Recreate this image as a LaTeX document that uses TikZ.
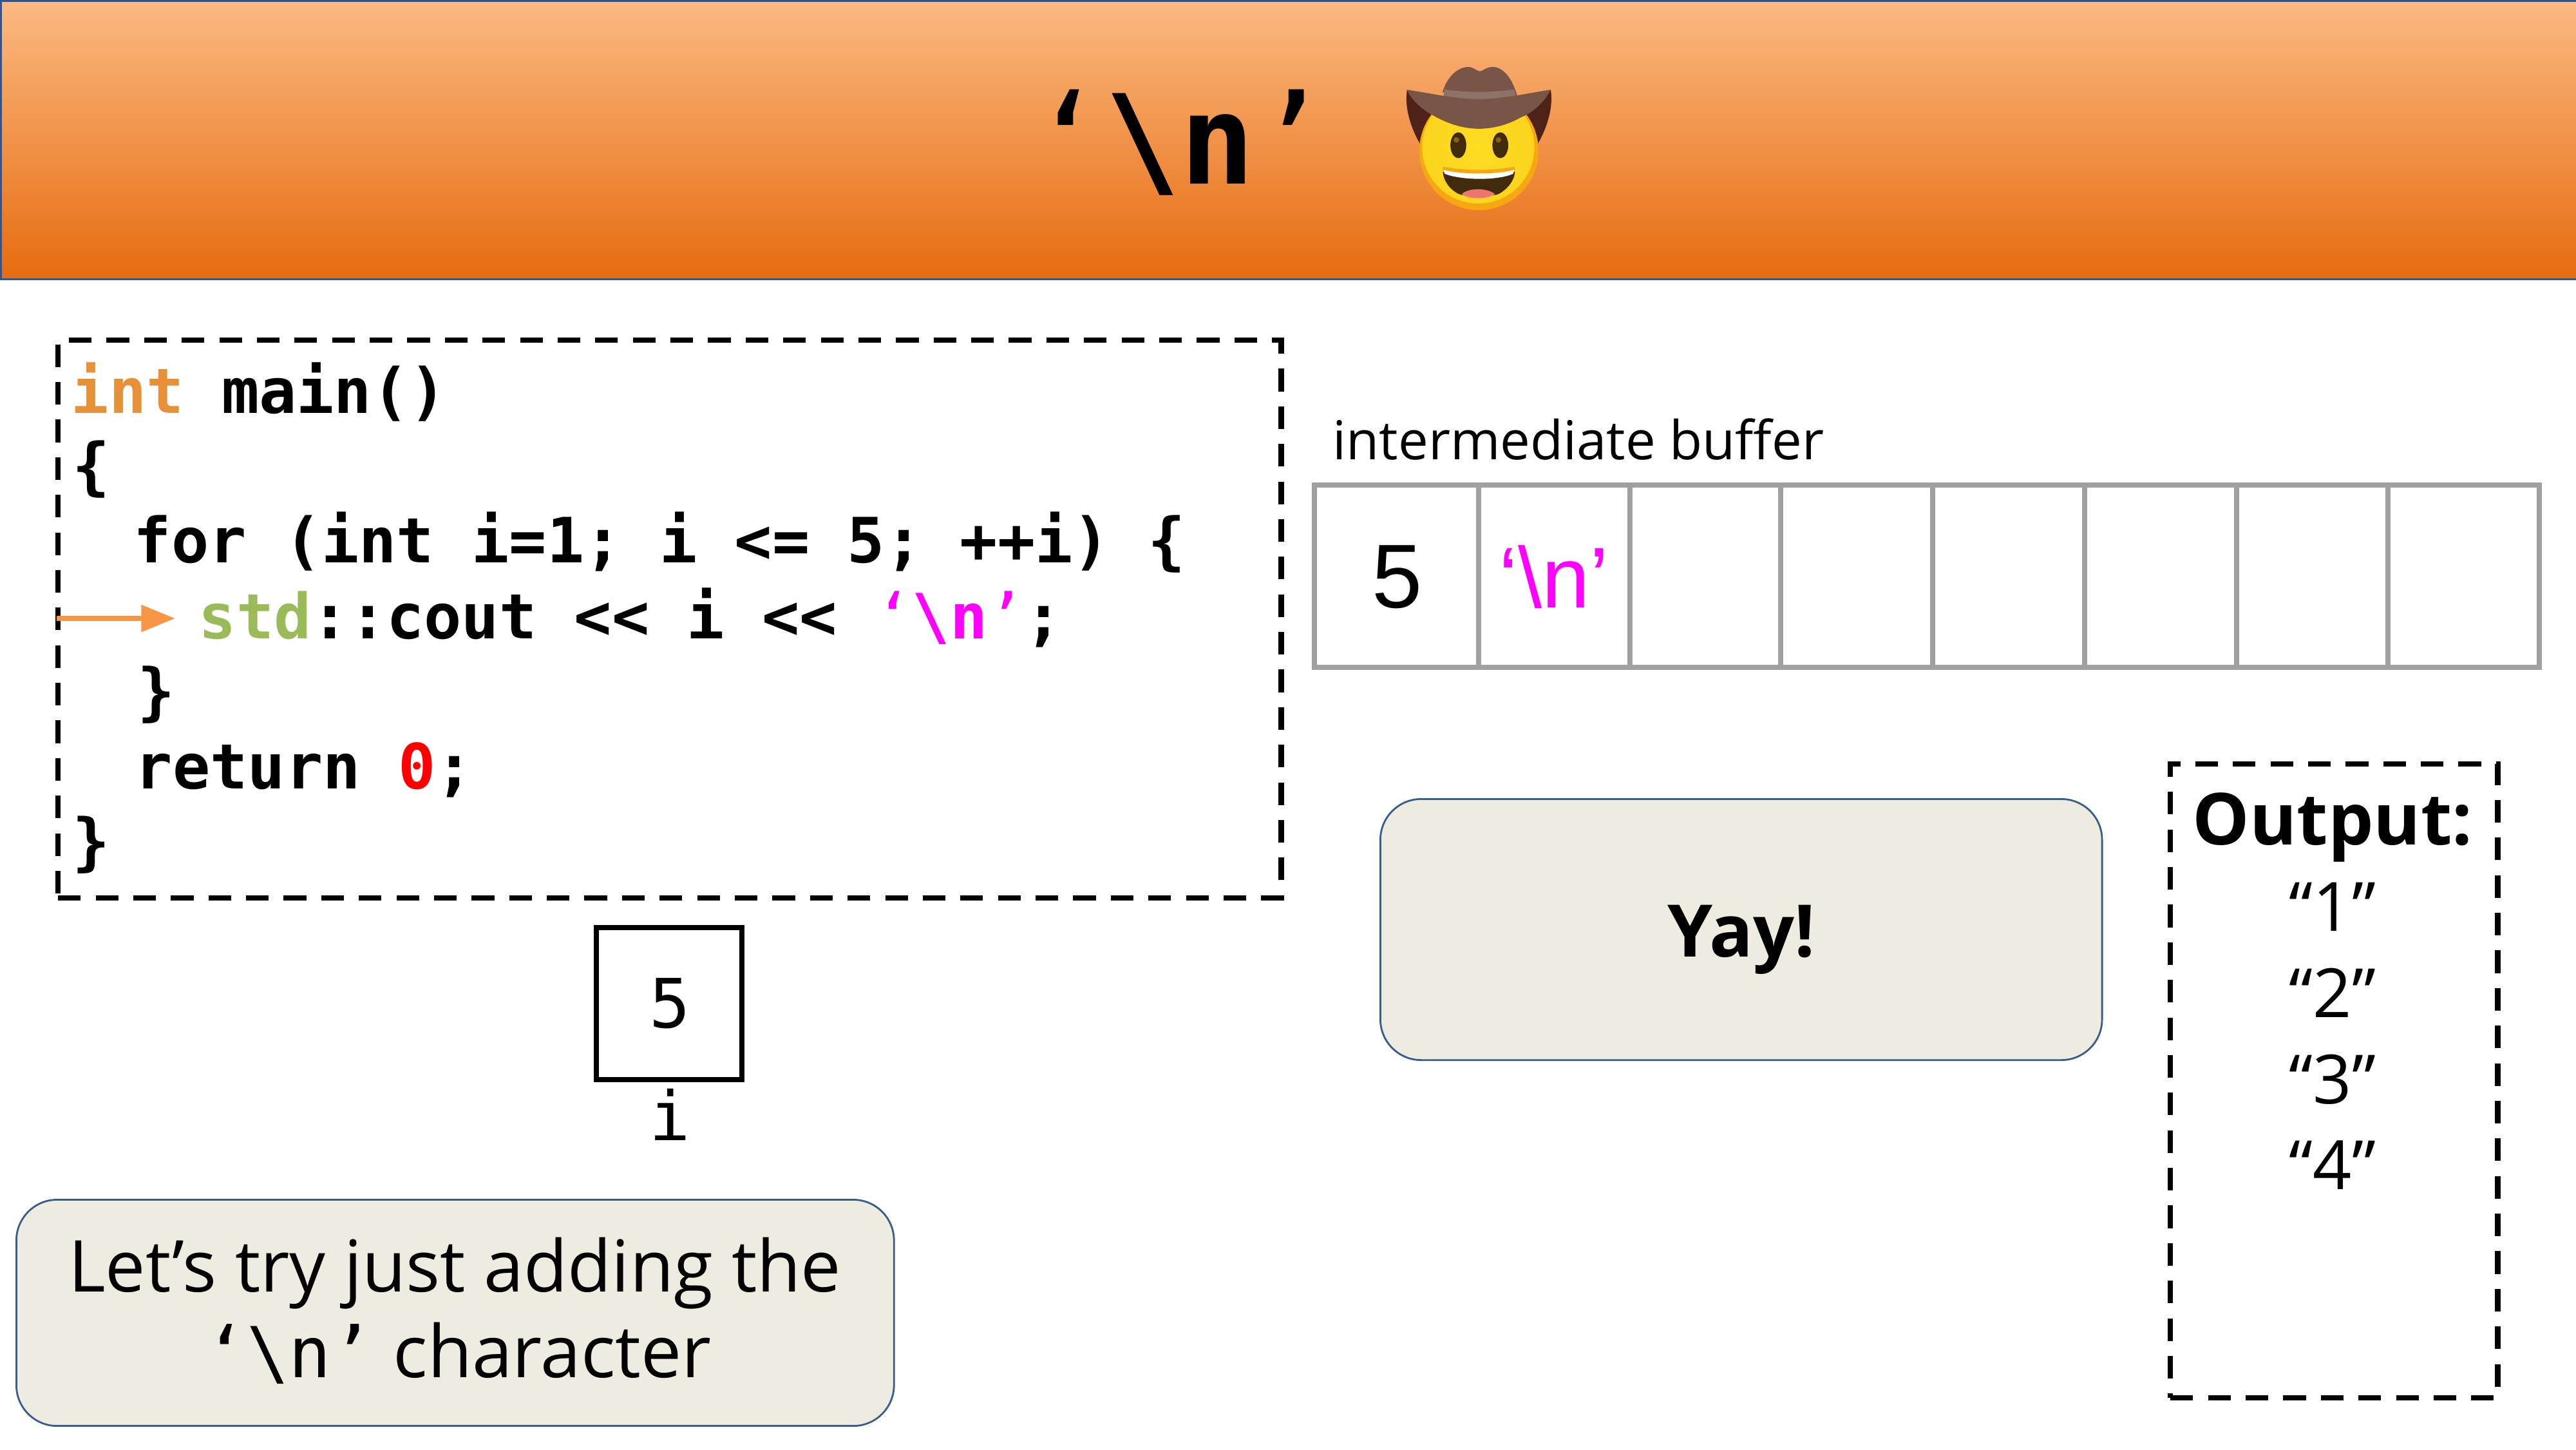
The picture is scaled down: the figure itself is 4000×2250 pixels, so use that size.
\documentclass[tikz,border=0pt]{standalone}
\usepackage{fontspec}
\setmainfont{Open Sans}
\newfontfamily\codefont{DejaVu Sans Mono}
\newfontfamily\arialfont{Liberation Sans}
\usetikzlibrary{arrows.meta}
\definecolor{hdtop}{HTML}{FBB982}
\definecolor{hdmid}{HTML}{F29A55}
\definecolor{hdbot}{HTML}{E66C10}
\definecolor{hdline}{HTML}{2F5597}
\definecolor{tan}{HTML}{EEECE1}
\definecolor{tanline}{HTML}{385D8A}
\definecolor{gridc}{HTML}{A0A0A0}
\definecolor{kwc}{HTML}{E69138}
\definecolor{stdc}{HTML}{9BBB59}
\definecolor{arrowc}{HTML}{F79646}
\definecolor{pinkc}{HTML}{FF00FF}
\definecolor{redc}{HTML}{FF0000}
\definecolor{hatc}{HTML}{795548}
\definecolor{hatband}{HTML}{8D7268}
\definecolor{hatdark}{HTML}{4E2217}
\definecolor{facec}{HTML}{FDDC22}
\definecolor{faceedge}{HTML}{F5A80F}
\definecolor{eyec}{HTML}{422B0D}
\definecolor{eyeh}{HTML}{896024}
\definecolor{tonguec}{HTML}{ED7770}
\newcommand{\thinlq}{\mdseries ‘\bfseries}
\newcommand{\thinrq}{\mdseries ’\bfseries}
\tikzset{
  x=.01cm,y=-.01cm,
  code/.style={anchor=base west,inner sep=0pt,font=\codefont\bfseries\fontsize{27.55}{33}\selectfont},
  dashbox/.style={draw=black,line width=2.4pt,dash pattern=on 10pt off 6.6pt,inner sep=0pt},
  tanbox/.style={draw=tanline,fill=tan,line width=.8pt,rounded corners=18pt,inner sep=0pt},
  lbl/.style={anchor=base,inner sep=0pt},
  cell/.style={draw=gridc,line width=2.2pt,inner sep=0pt,anchor=north west,minimum height=2.83cm},
  plain/.style={font=\fontsize{30}{36}\selectfont,lbl}
}
\begin{document}
\begin{tikzpicture}
\useasboundingbox (0,0) rectangle (4000,2250);
% header
\node[draw=hdline,line width=.8pt,top color=hdtop,middle color=hdmid,bottom color=hdbot,anchor=north west,minimum width=40cm,minimum height=4.32cm,inner sep=0pt] (header) at (0,0) {};
\node[lbl,font=\codefont\bfseries\fontsize{54.8}{60}\selectfont] (title) at (1832,285) {\thinlq\textbackslash n\thinrq};
% emoji
\begin{scope}[shift={(2130,80)},x=.003333cm,y=-.003333cm]
  \fill[hatdark] (165,178) .. controls (150,270) and (190,370) .. (225,430) -- (300,300) -- cycle;
  \fill[hatdark] (835,178) .. controls (850,270) and (810,370) .. (775,430) -- (700,300) -- cycle;
  \fill[faceedge] (500,462) circle (278);
  \shade[inner color=facec,outer color=facec!85!faceedge] (497,447) circle (262);
  \fill[hatc] (330,190) .. controls (350,120) and (400,72) .. (450,72) .. controls (475,72) and (490,92) .. (505,92) .. controls (520,92) and (530,72) .. (565,72) .. controls (610,72) and (655,120) .. (678,205) -- cycle;
  \fill[hatband] (330,240) -- (340,177) .. controls (450,192) and (550,192) .. (665,177) -- (678,240) -- cycle;
  \fill[hatc] (165,178) .. controls (300,200) and (400,222) .. (500,222) .. controls (600,222) and (700,200) .. (835,178) .. controls (800,250) and (730,295) .. (700,305) .. controls (630,345) and (560,360) .. (500,360) .. controls (440,360) and (370,345) .. (290,300) .. controls (260,285) and (190,240) .. (165,178) -- cycle;
  \fill[eyec] (404,437) ellipse (37 and 60);
  \fill[eyec] (600,437) ellipse (37 and 60);
  \fill[eyeh] (395,412) circle (13);
  \fill[eyeh] (591,412) circle (13);
  \fill[eyec] (332,560) .. controls (420,585) and (580,585) .. (668,560) .. controls (665,620) and (600,670) .. (570,670) -- (425,670) .. controls (390,665) and (335,620) .. (332,560) -- cycle;
  \fill[tonguec] (420,665) .. controls (450,635) and (540,635) .. (575,665) .. controls (540,690) and (450,690) .. (420,665) -- cycle;
  \draw[faceedge,line width=1.6pt] (332,545) .. controls (420,565) and (580,565) .. (668,545);
  \fill[white] (335,552) .. controls (420,575) and (580,575) .. (665,552) -- (660,570) .. controls (590,602) and (420,602) .. (340,570) -- cycle;
\end{scope}
% code box
\node[dashbox,anchor=north west,minimum width=18.98cm,minimum height=8.65cm] (codebox) at (86,524) {};
\node[code] (l1) at (110,641) {\textcolor{kwc}{int} main()};
\node[code] (l2) at (112,757) {\{};
\node[code] (l3) at (207,873) {for (int i=1; i <= 5; ++i) \{};
\node[code] (l4) at (308,991) {\textcolor{stdc}{std}::cout << i << \textcolor{pinkc}{\thinlq\textbackslash n\thinrq};};
\node[code] (l5) at (213,1107) {\}};
\node[code] (l6) at (209,1224) {return \textcolor{redc}{0};};
\node[code] (l7) at (112,1340) {\}};
% arrow
\coordinate (arrowstart) at (88,960);
\coordinate (arrowend) at (272,960);
\draw[arrowc,line width=2.28pt,-{Triangle[length=15pt,width=11.5pt]}] (arrowstart) -- (arrowend);
% variable
\node[draw=black,line width=2.28pt,anchor=north west,minimum width=2.26cm,minimum height=2.36cm,inner sep=0pt] (varbox) at (922,1436) {};
\node[lbl,font=\codefont\fontsize{30}{36}\selectfont] (varval) at (1040,1595) {5};
\node[lbl,font=\codefont\fontsize{30}{36}\selectfont] (varname) at (1040,1770) {i};
% buffer
\node[lbl,anchor=base west,font=\fontsize{23.7}{28}\selectfont] (buflabel) at (2069,713) {intermediate buffer};
\node[cell,minimum width=2.55cm] (c0) at (2037,749) {};
\node[cell,minimum width=2.35cm] (c1) at (2292,749) {};
\node[cell,minimum width=2.34cm] (c2) at (2527,749) {};
\node[cell,minimum width=2.36cm] (c3) at (2761,749) {};
\node[cell,minimum width=2.36cm] (c4) at (2997,749) {};
\node[cell,minimum width=2.36cm] (c5) at (3233,749) {};
\node[cell,minimum width=2.35cm] (c6) at (3469,749) {};
\node[cell,minimum width=2.35cm] (c7) at (3704,749) {};
\node[lbl,font=\arialfont\fontsize{40}{46}\selectfont] (b5) at (2170,943) {5};
\node[lbl,font=\arialfont\fontsize{38}{46}\selectfont,text=pinkc] (bn) at (2413,943) {‘\textbackslash n’};
% yay
\node[tanbox,anchor=north west,minimum width=11.2cm,minimum height=4.05cm] (yaybox) at (2142,1239) {};
\node[lbl,font=\bfseries\fontsize{32}{38}\selectfont] (yay) at (2704,1485) {Yay!};
% output
\node[dashbox,anchor=north west,minimum width=5.08cm,minimum height=9.83cm] (outbox) at (3366,1182) {};
\node[lbl,font=\bfseries\fontsize{31.7}{38}\selectfont] (outt) at (3622,1311) {Output:};
\node[plain] (o1) at (3622,1445) {“1”};
\node[plain] (o2) at (3622,1579) {“2”};
\node[plain] (o3) at (3622,1713) {“3”};
\node[plain] (o4) at (3622,1846) {“4”};
% message
\node[tanbox,anchor=north west,minimum width=13.62cm,minimum height=3.51cm] (msgbox) at (24,1861) {};
\node[lbl,font=\fontsize{31.6}{38}\selectfont] (m1) at (706,2005) {Let’s try just adding the};
\node[lbl,font=\codefont\fontsize{31}{38}\selectfont] (m2a) at (449,2138) {‘\textbackslash n’};
\node[lbl,anchor=base west,font=\fontsize{32}{38}\selectfont] (m2b) at (610,2138) {character};
\end{tikzpicture}
\end{document}
